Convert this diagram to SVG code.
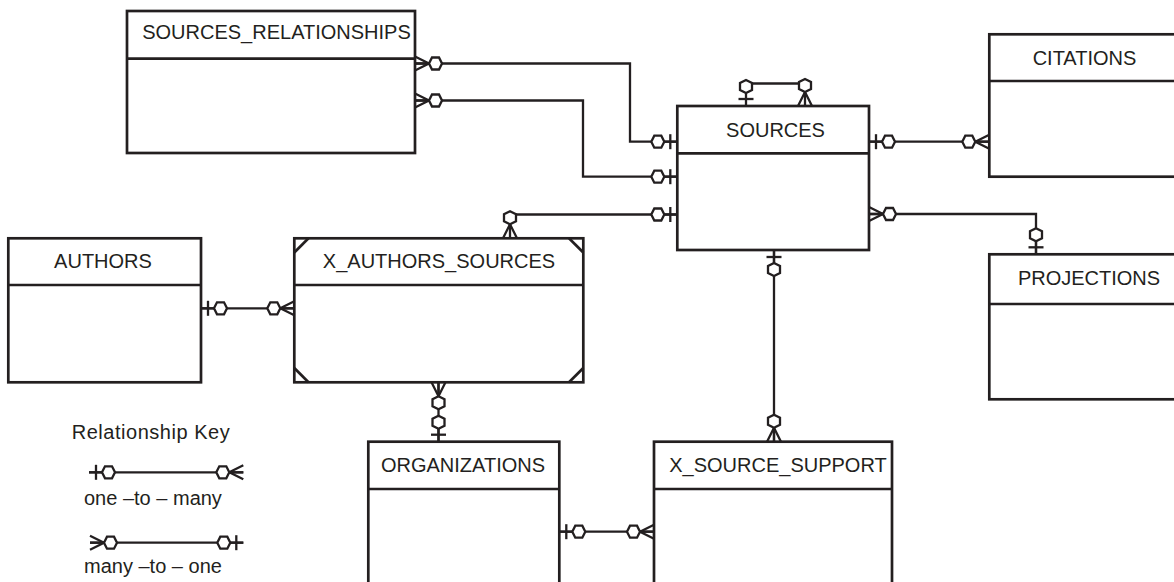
<svg xmlns="http://www.w3.org/2000/svg" xmlns:xlink="http://www.w3.org/1999/xlink" width="1174" height="582" viewBox="0 0 1174 582">
  <style>
    .box { fill: #ffffff; stroke: #231f20; stroke-width: 2.7; }
    .div { stroke: #231f20; stroke-width: 2.7; fill: none; }
    .title { font-family: "Liberation Sans", Arial, sans-serif; font-size: 20px; fill: #231f20; text-anchor: middle; }
    .key { font-family: "Liberation Sans", Arial, sans-serif; font-size: 20px; fill: #231f20; }
    .wire { fill: none; stroke: #231f20; stroke-width: 2.3; }
  </style>
  <defs>
    <!-- "one" end: bar plus optional hexagon, entity edge at origin, line heading +x -->
    <g id="one" fill="none" stroke="#231f20" stroke-width="2.3">
      <line x1="0" y1="0" x2="13" y2="0"/>
      <line x1="7" y1="-7.5" x2="7" y2="7.5"/>
      <polygon points="13,0 16,-6 23,-6 26,0 23,6 16,6" fill="#ffffff"/>
    </g>
    <!-- "many" end: crow's foot plus optional hexagon -->
    <g id="many" fill="none" stroke="#231f20" stroke-width="2.3">
      <polyline points="0,-7 14,0 0,7"/>
      <line x1="0" y1="0" x2="14" y2="0"/>
      <polygon points="14,0 17,-6 24,-6 27,0 24,6 17,6" fill="#ffffff"/>
    </g>
  </defs>

  <rect width="1174" height="582" fill="#ffffff"/>

  <!-- entities -->
  <g id="sources_relationships">
    <rect class="box" x="127" y="11" width="288" height="142"/>
    <line class="div" x1="127" y1="58.7" x2="415" y2="58.7"/>
    <text class="title" x="276.5" y="39">SOURCES_RELATIONSHIPS</text>
  </g>
  <g id="sources">
    <rect class="box" x="677.3" y="106" width="191.7" height="144"/>
    <line class="div" x1="677.3" y1="153.3" x2="869" y2="153.3"/>
    <text class="title" x="775.5" y="137">SOURCES</text>
  </g>
  <g id="citations">
    <rect class="box" x="989.3" y="34.3" width="192" height="142.4"/>
    <line class="div" x1="989.3" y1="81" x2="1181.3" y2="81"/>
    <text class="title" x="1084.5" y="65">CITATIONS</text>
  </g>
  <g id="projections">
    <rect class="box" x="989.3" y="254.3" width="192" height="145"/>
    <line class="div" x1="989.3" y1="304" x2="1181.3" y2="304"/>
    <text class="title" x="1089" y="285">PROJECTIONS</text>
  </g>
  <g id="authors">
    <rect class="box" x="8.3" y="238.3" width="192.7" height="144"/>
    <line class="div" x1="8.3" y1="285" x2="201" y2="285"/>
    <text class="title" x="103" y="268.3">AUTHORS</text>
  </g>
  <g id="x_authors_sources">
    <rect class="box" x="294.3" y="238.3" width="289" height="144"/>
    <line class="div" x1="294.3" y1="285" x2="583.3" y2="285"/>
    <g class="div">
      <line x1="294.3" y1="252.5" x2="308.5" y2="238.3"/>
      <line x1="569" y1="238.3" x2="583.3" y2="252.5"/>
      <line x1="294.3" y1="368" x2="308.5" y2="382.3"/>
      <line x1="569" y1="382.3" x2="583.3" y2="368"/>
    </g>
    <text class="title" x="439" y="268.3">X_AUTHORS_SOURCES</text>
  </g>
  <g id="organizations">
    <rect class="box" x="368.3" y="441.7" width="191" height="160"/>
    <line class="div" x1="368.3" y1="489" x2="559.3" y2="489"/>
    <text class="title" x="463" y="471.7">ORGANIZATIONS</text>
  </g>
  <g id="x_source_support">
    <rect class="box" x="654" y="441.7" width="238" height="160"/>
    <line class="div" x1="654" y1="489" x2="892" y2="489"/>
    <text class="title" x="778" y="471.7">X_SOURCE_SUPPORT</text>
  </g>

  <!-- relationships -->
  <g id="connectors">
    <path class="wire" d="M415,63.5 H630 V141.7 H677.3"/>
    <path class="wire" d="M415,100.5 H583 V176.7 H677.3"/>
    <path class="wire" d="M510,214.5 H677.3"/>
    <path class="wire" d="M746,83.5 H805"/>
    <path class="wire" d="M869,141.7 H989.3"/>
    <path class="wire" d="M869,214 H1036 V254.3"/>
    <path class="wire" d="M774,250 V441.7"/>
    <path class="wire" d="M201,308.3 H294.3"/>
    <path class="wire" d="M438.5,382.3 V441.7"/>
    <path class="wire" d="M559.3,531.7 H654"/>

    <use xlink:href="#many" transform="translate(415,63.5)"/>
    <use xlink:href="#one" transform="translate(677.3,141.7) rotate(180)"/>
    <use xlink:href="#many" transform="translate(415,100.5)"/>
    <use xlink:href="#one" transform="translate(677.3,176.7) rotate(180)"/>
    <use xlink:href="#many" transform="translate(510,238.3) rotate(-90)"/>
    <use xlink:href="#one" transform="translate(677.3,214.5) rotate(180)"/>
    <use xlink:href="#one" transform="translate(746,106) rotate(-90)"/>
    <use xlink:href="#many" transform="translate(805,106) rotate(-90)"/>
    <use xlink:href="#one" transform="translate(869,141.7)"/>
    <use xlink:href="#many" transform="translate(989.3,141.7) rotate(180)"/>
    <use xlink:href="#many" transform="translate(869,214)"/>
    <use xlink:href="#one" transform="translate(1036,254.3) rotate(-90)"/>
    <use xlink:href="#one" transform="translate(774,250) rotate(90)"/>
    <use xlink:href="#many" transform="translate(774,441.7) rotate(-90)"/>
    <use xlink:href="#one" transform="translate(201,308.3)"/>
    <use xlink:href="#many" transform="translate(294.3,308.3) rotate(180)"/>
    <use xlink:href="#many" transform="translate(438.5,382.3) rotate(90)"/>
    <use xlink:href="#one" transform="translate(438.5,441.7) rotate(-90)"/>
    <use xlink:href="#one" transform="translate(559.3,531.7)"/>
    <use xlink:href="#many" transform="translate(654,531.7) rotate(180)"/>
  </g>

  <!-- legend -->
  <g id="relationship_key">
    <text class="key" x="71.7" y="439" textLength="158" lengthAdjust="spacing">Relationship Key</text>
    <path class="wire" d="M89,472.3 H243.3"/>
    <use xlink:href="#one" transform="translate(89,472.3)"/>
    <use xlink:href="#many" transform="translate(243.3,472.3) rotate(180)"/>
    <text class="key" x="84" y="505">one –to – many</text>
    <path class="wire" d="M90,542.7 H243.3"/>
    <use xlink:href="#many" transform="translate(90,542.7)"/>
    <use xlink:href="#one" transform="translate(243.3,542.7) rotate(180)"/>
    <text class="key" x="84" y="573">many –to – one</text>
  </g>
</svg>
